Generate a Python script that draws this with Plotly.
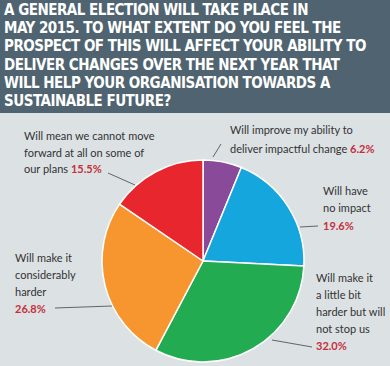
import plotly.graph_objects as go

W, H = 390, 366

# ---- data ----
categories = [
    "Will improve my ability to deliver impactful change",
    "Will have no impact",
    "Will make it a little bit harder but will not stop us",
    "Will make it considerably harder",
    "Will mean we cannot move forward at all on some of our plans",
]
values = [6.2, 19.6, 32.0, 26.8, 15.5]
colors = ["#8a4a9a", "#15a6de", "#22ab50", "#f7952f", "#e8262d"]

title_lines = [
    "A GENERAL ELECTION WILL TAKE PLACE IN",
    "MAY 2015. TO WHAT EXTENT DO YOU FEEL THE",
    "PROSPECT OF THIS WILL AFFECT YOUR ABILITY TO",
    "DELIVER CHANGES OVER THE NEXT YEAR THAT",
    "WILL HELP YOUR ORGANISATION TOWARDS A",
    "SUSTAINABLE FUTURE?",
]

# label text lines per slice (last element gets the percentage)
label_lines = [
    ["Will improve my ability to", "deliver impactful change"],
    ["Will have", "no impact", ""],
    ["Will make it", "a little bit", "harder but will", "not stop us", ""],
    ["Will make it", "considerably", "harder", ""],
    ["Will mean we cannot move", "forward at all on some of", "our plans"],
]

# ---- layout helpers (pixel -> paper) ----
def px(x):
    return x / W

def py(y):
    return 1 - y / H

PCT_COLOR = "#c4303b"
TXT_COLOR = "#333333"
LABEL_FONT = "Lato, Roboto, sans-serif"
TITLE_FONT = "DejaVu Sans Condensed, DejaVu Sans, sans-serif"

# pie geometry (pixels)
cx, cy, r = 203, 261, 101

fig = go.Figure(
    go.Pie(
        labels=categories,
        values=values,
        sort=False,
        direction="clockwise",
        rotation=0,
        marker=dict(colors=colors, line=dict(color="white", width=1.5)),
        textinfo="none",
        hoverinfo="label+percent",
        domain=dict(x=[px(cx - r), px(cx + r)], y=[py(cy + r), py(cy - r)]),
        showlegend=False,
    )
)

shapes = [
    dict(type="rect", xref="paper", yref="paper", x0=0, x1=1, y0=py(113), y1=1,
         fillcolor="#4f6470", line=dict(width=0), layer="below"),
]

annotations = []
# title
for i, t in enumerate(title_lines):
    annotations.append(dict(
        text="<span style='letter-spacing:-0.5px'><b>" + t + "</b></span>",
        x=px(2), y=py(10 + i * 18.2), xref="paper", yref="paper",
        xanchor="left", yanchor="middle", showarrow=False,
        font=dict(family=TITLE_FONT, size=15, color="white"),
    ))

# label placement: (left x, first line center y, pitch)
label_pos = [(228, 130, 18), (321, 190, 17.5), (314, 277, 17.2), (13, 257, 17.3), (22, 135, 17)]

for lines, val, (lx, ly, pitch) in zip(label_lines, values, label_pos):
    pct = "<span style='color:%s'><b>%.1f%%</b></span>" % (PCT_COLOR, val)
    for j, ln in enumerate(lines):
        txt = ln
        if j == len(lines) - 1:
            txt = (ln + " " + pct) if ln else pct
        annotations.append(dict(
            text=txt, x=px(lx), y=py(ly + j * pitch), xref="paper", yref="paper",
            xanchor="left", yanchor="middle", showarrow=False,
            font=dict(family=LABEL_FONT, size=11, color=TXT_COLOR),
        ))

# leader lines (pixels)
leaders = [((213, 157), (221, 144)), ((300, 227), (318, 226)), ((272, 340), (312, 347)),
           ((55, 308), (112, 306)), ((108, 173), (135, 185))]
for (x0, y0), (x1, y1) in leaders:
    shapes.append(dict(type="line", xref="paper", yref="paper",
                       x0=px(x0), y0=py(y0), x1=px(x1), y1=py(y1),
                       line=dict(color="#444444", width=0.8)))

fig.update_layout(
    width=W, height=H,
    margin=dict(l=0, r=0, t=0, b=0),
    paper_bgcolor="#dce1e4",
    plot_bgcolor="#dce1e4",
    shapes=shapes,
    annotations=annotations,
)

fig.write_html("out.html", config={"displayModeBar": False},
               post_script="document.body.style.margin='0';document.body.style.overflow='hidden';")
